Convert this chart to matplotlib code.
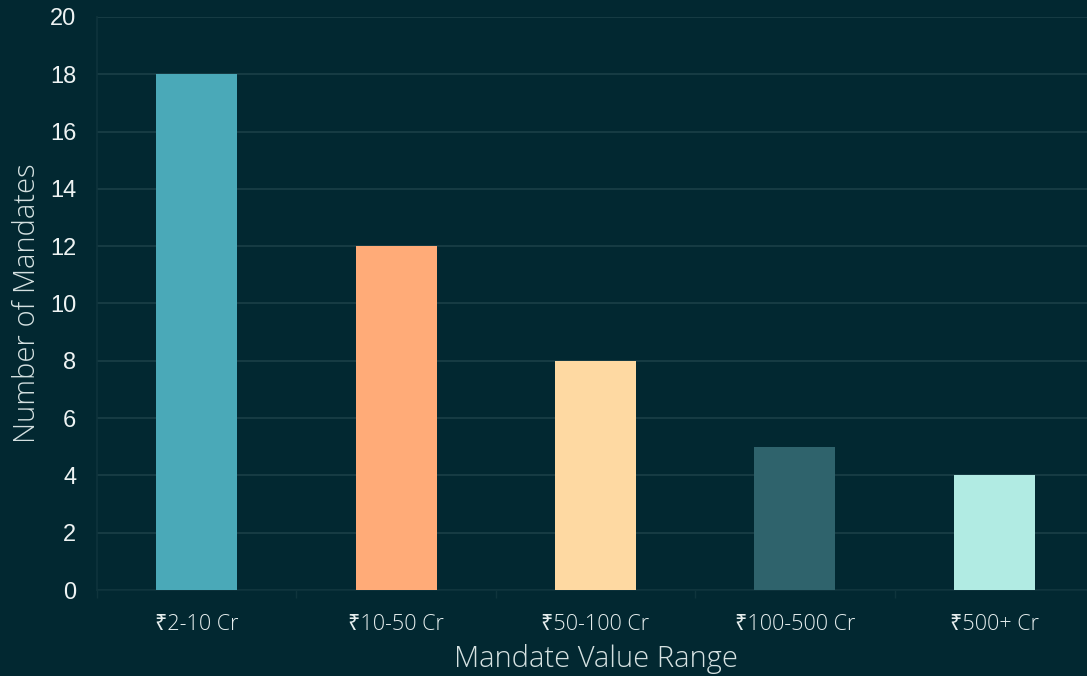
import matplotlib
matplotlib.use("Agg")
import matplotlib.pyplot as plt
import numpy as np

categories = ["₹2-10 Cr", "₹10-50 Cr", "₹50-100 Cr", "₹100-500 Cr", "₹500+ Cr"]
values = [18, 12, 8, 5, 4]
bar_colors = ["#4aa9b8", "#ffab78", "#fed9a2", "#2f636c", "#b1ebe3"]
y_ticks = [0, 2, 4, 6, 8, 10, 12, 14, 16, 18, 20]

bg = "#022831"
grid = "#1b3f47"
label_fam = ["Open Sans", "Noto Sans", "DejaVu Sans"]

fig = plt.figure(figsize=(10.87, 6.76), dpi=100, facecolor=bg)
ax = fig.add_axes([97 / 1087, 0.1272, 997 / 1087, 0.8477])
ax.set_facecolor(bg)

x = np.arange(len(categories))
ax.bar(x, values, width=0.406, color=bar_colors, zorder=3)

ax.set_xlim(-0.5, len(categories) - 0.5)
ax.set_ylim(0, 20)
ax.set_yticks(y_ticks)
ax.set_yticklabels([str(t) for t in y_ticks], family=["Liberation Sans", "DejaVu Sans"],
                   fontsize=17, color="#eef3f3")
ax.tick_params(axis="y", length=0, pad=15)

ax.set_xticks(x)
ax.set_xticklabels(categories, family=label_fam, fontsize=15.5,
                   color="#e6eeee", fontweight="light")
ax.tick_params(axis="x", length=0, pad=17)
ax.set_xticks(np.arange(len(categories) + 1) - 0.5, minor=True)
ax.tick_params(axis="x", which="minor", length=6, color="#0f343c", width=1)

ax.grid(axis="y", color=grid, linewidth=1.2, zorder=0)
for s in ["top", "right"]:
    ax.spines[s].set_visible(False)
for s in ["left", "bottom"]:
    ax.spines[s].set_color("#0f343c")
    ax.spines[s].set_linewidth(1.2)

ax.set_ylabel("Number of Mandates", family=label_fam, fontsize=21,
              fontweight="light", color="#d6e2e2")
ax.yaxis.set_label_coords(-0.0552, 0.5)
ax.set_xlabel("Mandate Value Range", family=label_fam, fontsize=21,
              fontweight="light", color="#d6e2e2", labelpad=7)

fig.savefig("out.png", dpi=100, facecolor=bg)
